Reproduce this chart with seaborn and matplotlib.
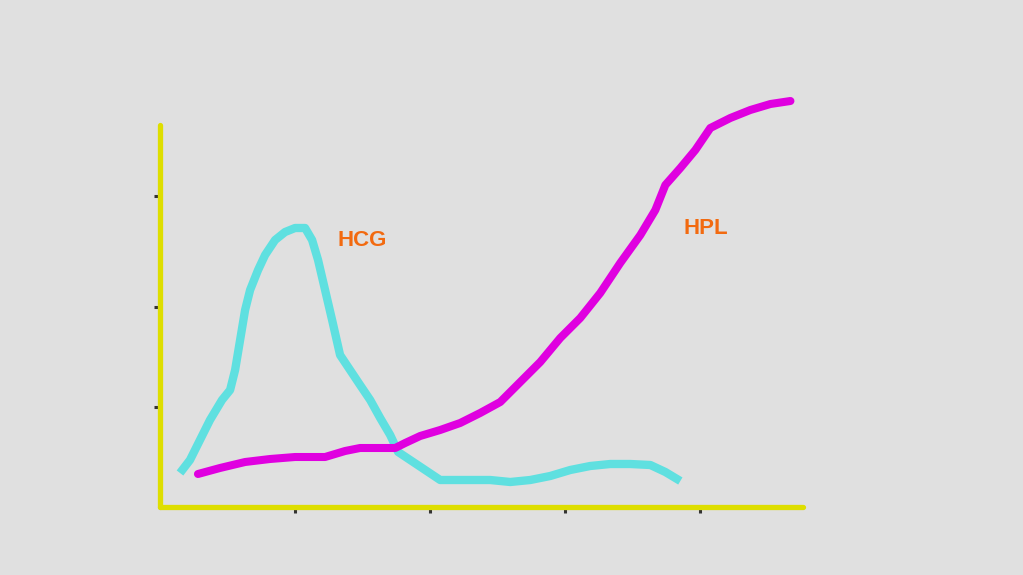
import matplotlib
matplotlib.use("Agg")
import matplotlib.pyplot as plt
import seaborn as sns
import pandas as pd

# Data (weeks of pregnancy vs relative hormone level)
hcg_x = [1.48, 2.22, 2.96, 3.70, 4.59, 5.19, 5.56, 5.93, 6.30, 6.67, 7.26, 7.78, 8.52, 9.26,
         10.0, 10.74, 11.26, 11.7, 12.22, 12.74, 13.33, 14.07, 14.81, 15.56, 16.3, 17.04,
         17.63, 18.52, 19.63, 20.74, 22.22, 24.44, 25.93, 27.41, 28.89, 30.37, 31.85, 33.33,
         34.81, 36.30, 37.41, 38.52]
hcg_y = [0.34, 0.47, 0.67, 0.87, 1.07, 1.17, 1.37, 1.67, 1.97, 2.17, 2.37, 2.52, 2.67, 2.75,
         2.79, 2.79, 2.67, 2.47, 2.17, 1.87, 1.52, 1.37, 1.22, 1.07, 0.89, 0.72,
         0.55, 0.47, 0.37, 0.27, 0.27, 0.27, 0.25, 0.27, 0.31, 0.37, 0.41, 0.43,
         0.43, 0.42, 0.35, 0.26]
hpl_x = [2.81, 4.44, 6.30, 8.15, 10.0, 12.22, 13.7, 14.81, 17.41, 18.15, 19.26, 20.74, 22.22,
         23.70, 25.19, 26.67, 28.15, 29.63, 31.11, 32.59, 34.07, 35.56, 36.67, 37.41, 38.52,
         39.63, 40.74, 42.22, 43.70, 45.19, 46.67]
hpl_y = [0.33, 0.39, 0.45, 0.48, 0.50, 0.50, 0.56, 0.59, 0.59, 0.64, 0.71, 0.77, 0.84,
         0.94, 1.05, 1.25, 1.45, 1.69, 1.89, 2.14, 2.44, 2.72, 2.97, 3.22, 3.39,
         3.57, 3.79, 3.89, 3.97, 4.03, 4.06]
x_ticks = [10, 20, 30, 40]
y_ticks = [1.0, 2.0, 3.11]
labels = ["HCG", "HPL"]
label_pos = [(14.96, 2.66), (40.44, 2.78)]

BG = "#e0e0e0"
YELLOW = "#dede00"
CYAN = "#5fe0e0"
MAGENTA = "#e000e0"
ORANGE = "#f26a10"

sns.set_theme(style="white")
plt.rcParams["font.family"] = ["Liberation Sans", "DejaVu Sans"]

fig = plt.figure(figsize=(10.23, 5.75), dpi=100, facecolor=BG)
ax = fig.add_axes([160 / 1023, 68 / 575, 643 / 1023, 412 / 575])
ax.set_facecolor(BG)

hcg = pd.DataFrame({"x": hcg_x, "y": hcg_y})
hpl = pd.DataFrame({"x": hpl_x, "y": hpl_y})
sns.lineplot(data=hcg, x="x", y="y", ax=ax, color=CYAN, lw=6, estimator=None,
             sort=False, solid_capstyle="butt")
sns.lineplot(data=hpl, x="x", y="y", ax=ax, color=MAGENTA, lw=5.8, estimator=None,
             sort=False, solid_capstyle="round")

ax.set_xlim(0, 47.6)
ax.set_ylim(0, 4.12)
ax.set_xticks(x_ticks)
ax.set_yticks(y_ticks)
ax.set_xticklabels([])
ax.set_yticklabels([])
ax.set_xlabel("")
ax.set_ylabel("")
ax.tick_params(axis="both", bottom=True, left=True, direction="out", length=4.5,
               width=2.2, color="#333333")

for side in ["top", "right"]:
    ax.spines[side].set_visible(False)
for side in ["left", "bottom"]:
    sp = ax.spines[side]
    sp.set_visible(True)
    sp.set_color(YELLOW)
    sp.set_linewidth(3.8)
    sp.set_capstyle("round")
    sp.set_zorder(3)
ax.spines["left"].set_bounds(0, 3.82)

for txt, (tx, ty) in zip(labels, label_pos):
    ax.text(tx, ty, txt, color=ORANGE, fontsize=16, fontweight="bold",
            ha="center", va="center")

fig.savefig("out.png", dpi=100, facecolor=BG)
